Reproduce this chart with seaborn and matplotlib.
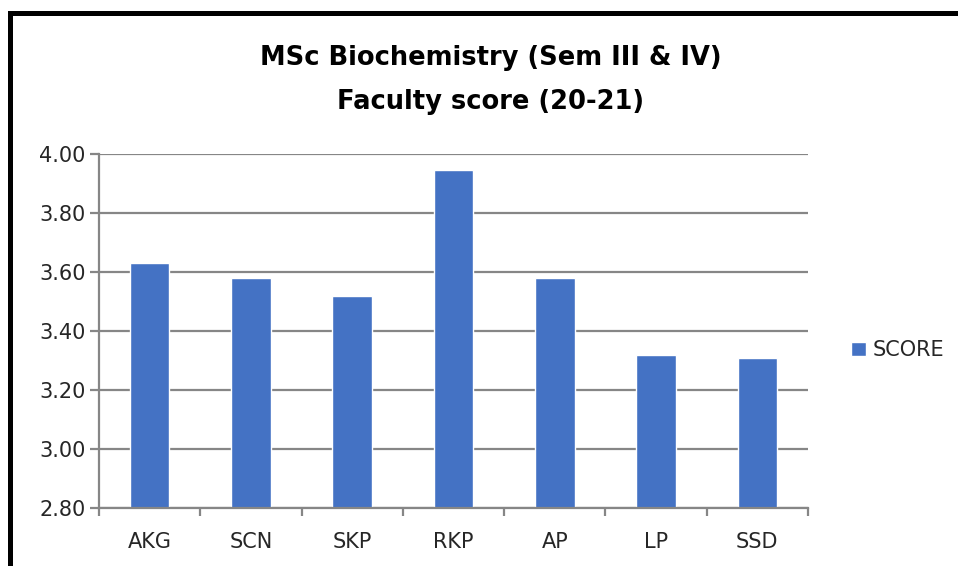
"""
MSc Biochemistry faculty score bar chart (Excel-style look).
"""
import matplotlib
matplotlib.use("Agg")
import matplotlib.pyplot as plt
from matplotlib.patches import Rectangle
import pandas as pd
import seaborn as sns

FACULTY = ["AKG", "SCN", "SKP", "RKP", "AP", "LP", "SSD"]
SCORES = [3.63, 3.58, 3.52, 3.945, 3.58, 3.32, 3.31]
Y_TICKS = [2.80, 3.00, 3.20, 3.40, 3.60, 3.80, 4.00]
SERIES = "SCORE"
TITLE_LINES = ["MSc Biochemistry (Sem III & IV)", "Faculty score (20-21)"]

BAR_COLOR = "#4472C4"
GRID_COLOR = "#868686"
TEXT_COLOR = "#262626"

W, H = 958, 566


def main():
    df = pd.DataFrame({"faculty": FACULTY, "score": SCORES, "series": SERIES})

    sns.set_theme(style="white")
    plt.rcParams["font.family"] = ["DejaVu Sans"]

    fig = plt.figure(figsize=(W / 100, H / 100), dpi=100)
    ax = fig.add_axes([99 / W, 1 - 508 / H, (808 - 99) / W, (508 - 154) / H])

    sns.barplot(data=df, x="faculty", y="score", hue="series",
                palette=[BAR_COLOR], width=0.39, ax=ax, saturation=1)

    ax.set_ylim(Y_TICKS[0], Y_TICKS[-1])
    ax.set_xlim(-0.5, len(FACULTY) - 0.5)
    ax.set_yticks(Y_TICKS)
    ax.set_yticklabels([f"{t:.2f}" for t in Y_TICKS])
    ax.set_xlabel("")
    ax.set_ylabel("")

    ax.yaxis.grid(True, color=GRID_COLOR, linewidth=1.6)
    ax.set_axisbelow(True)
    for side in ["top", "right"]:
        ax.spines[side].set_visible(False)
    for side in ["left", "bottom"]:
        ax.spines[side].set_color(GRID_COLOR)
        ax.spines[side].set_linewidth(1.6)

    ax.tick_params(axis="y", direction="out", length=6.5, width=1.6,
                   color=GRID_COLOR, labelsize=15, labelcolor=TEXT_COLOR,
                   pad=3, left=True)
    ax.tick_params(axis="x", which="major", length=0, labelsize=15,
                   labelcolor=TEXT_COLOR, pad=17)
    ax.set_xticks([i - 0.5 for i in range(len(FACULTY) + 1)], minor=True)
    ax.tick_params(axis="x", which="minor", direction="out", length=5.5,
                   width=1.6, color=GRID_COLOR, bottom=True)

    leg = ax.legend(loc="center left", bbox_to_anchor=(1.046, 0.445),
                    frameon=False, fontsize=15, handlelength=0.7,
                    handleheight=0.7, handletextpad=0.35, borderpad=0)
    for t in leg.get_texts():
        t.set_color(TEXT_COLOR)

    for i, line in enumerate(TITLE_LINES):
        fig.text(491 / W, 1 - (58 + 44 * i) / H, line, ha="center", va="center",
                 fontsize=18.5, fontweight="bold", color="black")

    # outer black frame (clipped on the right and bottom like the screenshot)
    fig.patches.append(Rectangle((9.5 / W, -0.1), 1.2, 1 - 13.5 / H + 0.1,
                                 transform=fig.transFigure, fill=False,
                                 edgecolor="black", linewidth=3.6))

    fig.savefig("out.png", dpi=100)
    plt.close(fig)


if __name__ == "__main__":
    main()
